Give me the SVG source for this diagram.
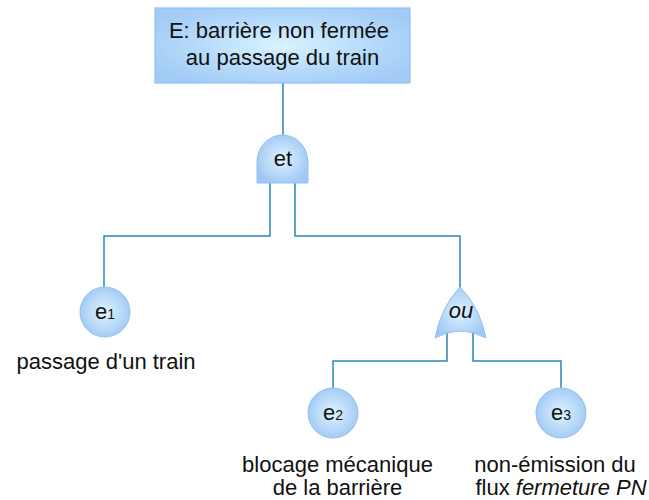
<svg xmlns="http://www.w3.org/2000/svg" width="649" height="500" viewBox="0 0 649 500">
<defs>
<radialGradient id="gBox" cx="50%" cy="50%" r="60%">
<stop offset="0" stop-color="#d9f3ff"/>
<stop offset="0.6" stop-color="#b3d9fa"/>
<stop offset="1" stop-color="#a2cbf6"/>
</radialGradient>
<radialGradient id="gNode" cx="50%" cy="50%" r="55%">
<stop offset="0" stop-color="#dff3ff"/>
<stop offset="1" stop-color="#9fc8f4"/>
</radialGradient>
</defs>
<style>
.shape{fill:url(#gNode);stroke:#93c2ee;stroke-width:1}
.box{fill:url(#gBox);stroke:#8fc0ee;stroke-width:1.2}
.conn{fill:none;stroke:#2b88b9;stroke-width:1.5}
text{font-family:"Liberation Sans",Arial,sans-serif;fill:#111;font-size:22px}
.c{text-anchor:middle}
.sub{font-size:14px}
</style>
<g id="connectors">
<path class="conn" d="M283,83 V137"/>
<path class="conn" d="M270,182 V236 H104 V288"/>
<path class="conn" d="M295,182 V236 H460 V289"/>
<path class="conn" d="M447,331 V361 H333 V389"/>
<path class="conn" d="M473,331 V361 H561 V389"/>
</g>
<g id="E">
<rect class="box" x="155" y="8" width="255" height="75"/>
<text x="279" y="38" class="c">E: barrière non fermée</text>
<text x="282.5" y="65" class="c">au passage du train</text>
</g>
<g id="et">
<path class="shape" d="M257,183 V162 A25.5,27 0 0 1 308,162 V183 Z"/>
<text x="283" y="166" class="c">et</text>
</g>
<g id="ou">
<path class="shape" d="M460,287 Q441,307 435,338 Q460,324 486,338 Q480,307 460,287 Z"/>
<text x="461" y="318" class="c" font-style="italic">ou</text>
</g>
<g id="e1">
<circle class="shape" cx="105" cy="312" r="25"/>
<text x="95" y="319">e<tspan class="sub">1</tspan></text>
<text x="106" y="369" class="c">passage d'un train</text>
</g>
<g id="e2">
<circle class="shape" cx="333" cy="413" r="25"/>
<text x="323" y="420">e<tspan class="sub">2</tspan></text>
<text x="337.5" y="472" class="c">blocage mécanique</text>
<text x="337.5" y="495" class="c">de la barrière</text>
</g>
<g id="e3">
<circle class="shape" cx="561" cy="413" r="25"/>
<text x="551" y="420">e<tspan class="sub">3</tspan></text>
<text x="555" y="472" class="c">non-émission du</text>
<text x="561" y="495" class="c">flux <tspan font-style="italic">fermeture PN</tspan></text>
</g>
</svg>
